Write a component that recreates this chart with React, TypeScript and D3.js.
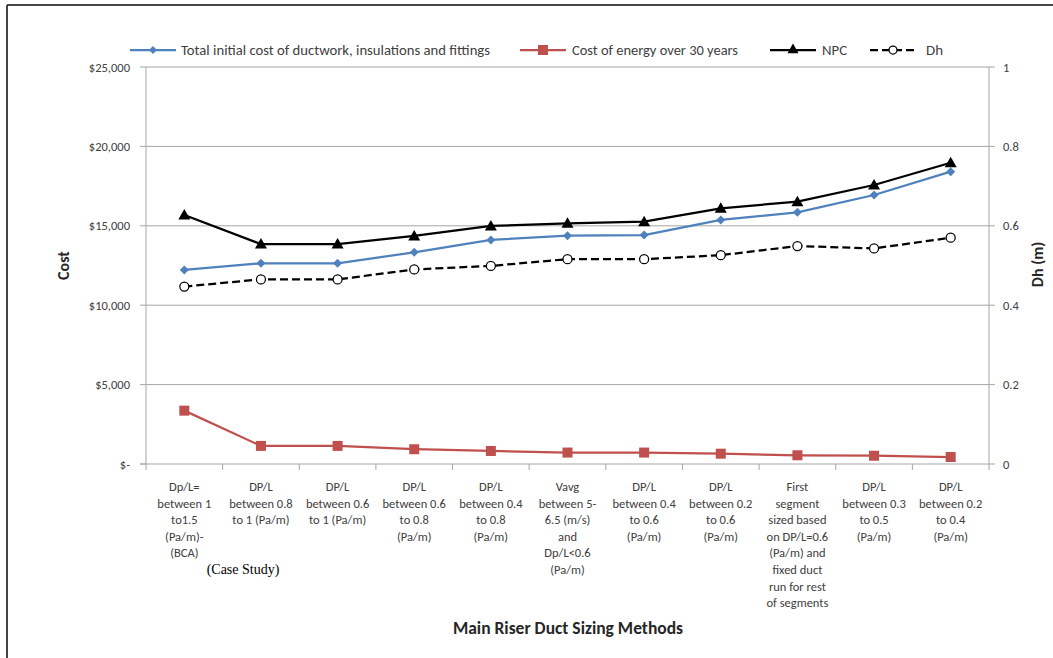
import React from "react";
import * as d3 from "d3";

const categories: string[][] = [
  ["Dp/L=", "between 1", "to1.5", "(Pa/m)-", "(BCA)"],
  ["DP/L", "between 0.8", "to 1 (Pa/m)"],
  ["DP/L", "between 0.6", "to 1 (Pa/m)"],
  ["DP/L", "between 0.6", "to 0.8", "(Pa/m)"],
  ["DP/L", "between 0.4", "to 0.8", "(Pa/m)"],
  ["Vavg", "between 5-", "6.5 (m/s)", "and", "Dp/L<0.6", "(Pa/m)"],
  ["DP/L", "between 0.4", "to 0.6", "(Pa/m)"],
  ["DP/L", "between 0.2", "to 0.6", "(Pa/m)"],
  ["First", "segment", "sized based", "on DP/L=0.6", "(Pa/m) and", "fixed duct", "run for rest", "of segments"],
  ["DP/L", "between 0.3", "to 0.5", "(Pa/m)"],
  ["DP/L", "between 0.2", "to 0.4", "(Pa/m)"],
];

const initialCost = [12220, 12640, 12640, 13330, 14110, 14380, 14420, 15370, 15850, 16940, 18410];
const energyCost = [3360, 1140, 1140, 930, 820, 720, 720, 650, 550, 520, 440];
const npc = [15680, 13850, 13850, 14360, 14990, 15160, 15260, 16100, 16520, 17570, 18970];
const dh = [0.447, 0.465, 0.465, 0.49, 0.499, 0.516, 0.516, 0.526, 0.549, 0.543, 0.57];

const costTicks = [0, 5000, 10000, 15000, 20000, 25000];
const dhTicks = [0, 0.2, 0.4, 0.6, 0.8, 1];

const W = 1053;
const H = 658;
const left = 146;
const right = 989;
const top = 67;
const bottom = 464;
const font = "Calibri, Carlito, Lato, 'Open Sans', sans-serif";
const axisGray = "#a6a6a6";
const textColor = "#404040";
const blue = "#4f81bd";
const red = "#c0504d";

export default function App() {
  const idx = categories.map((_, i) => i);
  const x = d3.scaleBand<number>().domain(idx).range([left, right]);
  const cx = (i: number) => (x(i) as number) + x.bandwidth() / 2;
  const yCost = d3.scaleLinear().domain([0, 25000]).range([bottom, top]);
  const yDh = d3.scaleLinear().domain([0, 1]).range([bottom, top]);

  const lineCost = d3.line<number>().x((_, i) => cx(i)).y((d) => yCost(d));
  const lineDh = d3.line<number>().x((_, i) => cx(i)).y((d) => yDh(d));

  const fmtCost = (v: number) => (v === 0 ? "$-" : "$" + d3.format(",")(v));

  const diamond = (px: number, py: number, s = 4.5) =>
    `M${px},${py - s}L${px + s},${py}L${px},${py + s}L${px - s},${py}Z`;
  const triangle = (px: number, py: number, s = 6) =>
    `M${px},${py - s}L${px + s},${py + s * 0.75}L${px - s},${py + s * 0.75}Z`;

  const bounds = idx.map((i) => x(i) as number).concat([right]);

  return (
    <div style={{ position: "absolute", left: 0, top: 0 }}>
      <svg width={W} height={H} style={{ display: "block", background: "#fff" }}>
        {/* frame */}
        <line x1={7} y1={5} x2={W} y2={5} stroke="#444" strokeWidth={2} />
        <line x1={7} y1={5} x2={7} y2={H} stroke="#444" strokeWidth={2} />

        {/* gridlines */}
        {costTicks.slice(1).map((t) => (
          <line key={t} x1={left} x2={right} y1={yCost(t)} y2={yCost(t)} stroke={axisGray} strokeWidth={1} />
        ))}

        {/* left axis */}
        <line x1={left} x2={left} y1={top} y2={bottom} stroke={axisGray} />
        {costTicks.map((t) => (
          <g key={t}>
            <line x1={left - 6} x2={left} y1={yCost(t)} y2={yCost(t)} stroke={axisGray} />
            <text x={left - 16} y={yCost(t) + 4.5} textAnchor="end" fontSize={12.5} fontFamily={font} fill={textColor}>
              {fmtCost(t)}
            </text>
          </g>
        ))}

        {/* right axis */}
        <line x1={right} x2={right} y1={top} y2={bottom} stroke={axisGray} />
        {dhTicks.map((t) => (
          <g key={t}>
            <line x1={right} x2={right + 6} y1={yDh(t)} y2={yDh(t)} stroke={axisGray} />
            <text x={right + 14} y={yDh(t) + 4.5} textAnchor="start" fontSize={12.5} fontFamily={font} fill={textColor}>
              {t}
            </text>
          </g>
        ))}

        {/* bottom axis */}
        <line x1={left - 6} x2={right} y1={bottom} y2={bottom} stroke={axisGray} />
        {bounds.map((b, i) => (
          <line key={i} x1={b} x2={b} y1={bottom} y2={bottom + 6} stroke={axisGray} />
        ))}
        {categories.map((lines, i) => (
          <text key={i} textAnchor="middle" fontSize={12.5} fontFamily={font} fill={textColor}>
            {lines.map((l, j) => (
              <tspan key={j} x={cx(i)} y={491 + j * 16.6}>
                {l}
              </tspan>
            ))}
          </text>
        ))}
        <text x={243} y={574} textAnchor="middle" fontSize={14} fontFamily="'Liberation Serif', 'Times New Roman', serif" fill="#000">
          (Case Study)
        </text>

        {/* axis titles */}
        <text x={568} y={634} textAnchor="middle" fontSize={17.5} fontWeight="bold" fontFamily={font} fill="#262626">
          Main Riser Duct Sizing Methods
        </text>
        <text transform={`translate(69,${(top + bottom) / 2}) rotate(-90)`} textAnchor="middle" fontSize={16} fontWeight="bold" fontFamily={font} fill="#262626">
          Cost
        </text>
        <text transform={`translate(1043,${(top + bottom) / 2 - 1}) rotate(-90)`} textAnchor="middle" fontSize={16} fontWeight="bold" fontFamily={font} fill="#262626">
          Dh (m)
        </text>

        {/* series */}
        <path d={lineCost(initialCost) || ""} fill="none" stroke={blue} strokeWidth={2.25} />
        {initialCost.map((v, i) => (
          <path key={i} d={diamond(cx(i), yCost(v))} fill={blue} />
        ))}

        <path d={lineCost(energyCost) || ""} fill="none" stroke={red} strokeWidth={2.25} />
        {energyCost.map((v, i) => (
          <rect key={i} x={cx(i) - 5} y={yCost(v) - 5} width={10} height={10} fill={red} />
        ))}

        <path d={lineCost(npc) || ""} fill="none" stroke="#000" strokeWidth={2.25} />
        {npc.map((v, i) => (
          <path key={i} d={triangle(cx(i), yCost(v))} fill="#000" />
        ))}

        <path d={lineDh(dh) || ""} fill="none" stroke="#000" strokeWidth={2.25} strokeDasharray="8,4" />
        {dh.map((v, i) => (
          <circle key={i} cx={cx(i)} cy={yDh(v)} r={4.5} fill="#fff" stroke="#000" strokeWidth={1.25} />
        ))}

        {/* legend */}
        <g fontSize={13.5} fontFamily={font} fill={textColor}>
          <line x1={130} x2={176} y1={50} y2={50} stroke={blue} strokeWidth={2.25} />
          <path d={diamond(153, 50, 4)} fill={blue} />
          <text x={181} y={55} textLength={309} lengthAdjust="spacingAndGlyphs">
            Total initial cost of ductwork, insulations and fittings
          </text>

          <line x1={520} x2={566} y1={50} y2={50} stroke={red} strokeWidth={2.25} />
          <rect x={538} y={45} width={10} height={10} fill={red} />
          <text x={572} y={55} textLength={166} lengthAdjust="spacingAndGlyphs">
            Cost of energy over 30 years
          </text>

          <line x1={770} x2={816} y1={50} y2={50} stroke="#000" strokeWidth={2.25} />
          <path d={triangle(793, 49, 5.5)} fill="#000" />
          <text x={822} y={55} textLength={25} lengthAdjust="spacingAndGlyphs">NPC</text>

          <line x1={870} x2={916} y1={50} y2={50} stroke="#000" strokeWidth={2.25} strokeDasharray="8,4" />
          <circle cx={893} cy={50} r={4} fill="#fff" stroke="#000" strokeWidth={1.25} />
          <text x={926} y={55} textLength={17} lengthAdjust="spacingAndGlyphs">Dh</text>
        </g>
      </svg>
    </div>
  );
}
